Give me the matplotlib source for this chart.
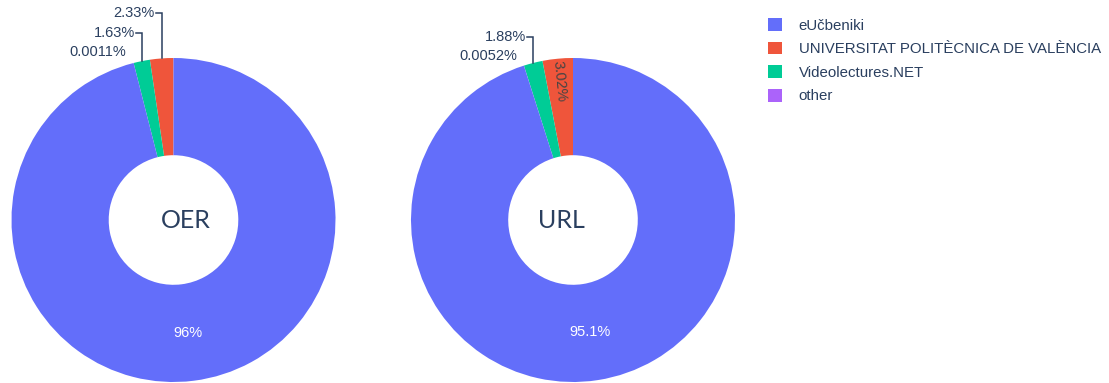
import matplotlib
matplotlib.use("Agg")
import numpy as np
import matplotlib.pyplot as plt
from matplotlib.patches import Patch

# Share of resources per source (percent)
sources = ["eUčbeniki", "UNIVERSITAT POLITÈCNICA DE VALÈNCIA", "Videolectures.NET", "other"]
colors = ["#636EFA", "#EF553B", "#00CC96", "#AB63FA"]
oer_share = [96.04, 2.33, 1.63, 0.0011]
url_share = [95.1, 3.02, 1.88, 0.0052]
titles = ["OER", "URL"]

TEXT = "#2a3f5f"
W, H = 1109, 383
fig = plt.figure(figsize=(W / 100, H / 100), dpi=100)
ax = fig.add_axes([0, 0, 1, 1])
plt.rcParams["font.family"] = ["Liberation Sans", "DejaVu Sans"]

# slices run counter-clockwise from 12 o'clock in this order
order = [1, 2, 3, 0]
R = 162
HOLE = 0.4
centers = [(173.5, H - 220), (573, H - 220)]
title_dx = [12.5, -11.5]
# per-source label placement: ("in", radius fraction, radial?) or ("out", lift in px)
placements = [
    {0: ("in", 0.70, False), 1: ("out", 45), 2: ("out", 28), 3: ("out", 11)},
    {0: ("in", 0.70, False), 1: ("in", 0.86, True), 2: ("out", 26), 3: ("out", 10)},
]
FS = 10.5
LEG_FS = 10.8


def fmt(v):
    return f"{v:.3g}%"


for k, shares in enumerate([oer_share, url_share]):
    cx, cy = centers[k]
    vals = [shares[i] for i in order]
    cols = [colors[i] for i in order]
    wedges, _ = ax.pie(vals, colors=cols, startangle=90, counterclock=True,
                       center=(cx, cy), radius=R, frame=True,
                       wedgeprops=dict(width=R * (1 - HOLE), linewidth=0))
    for w, idx in zip(wedges, order):
        mid = np.deg2rad((w.theta1 + w.theta2) / 2)
        pl = placements[k][idx]
        label = fmt(shares[idx])
        if pl[0] == "in":
            r = pl[1] * R
            x, y = cx + r * np.cos(mid), cy + r * np.sin(mid)
            rot = 0
            color = "white"
            if pl[2]:
                rot = np.rad2deg(mid)
                while rot > 90:
                    rot -= 180
                while rot <= -90:
                    rot += 180
                color = "#444444"
            ax.text(x, y, label, ha="center", va="center", rotation=rot,
                    rotation_mode="anchor", color=color, fontsize=FS)
        else:
            ex, ey = cx + R * np.cos(mid), cy + R * np.sin(mid)
            ty = ey + pl[1]
            ax.text(ex - 7, ty, label, ha="right", va="center", color=TEXT, fontsize=FS)
            if pl[1] > 15:
                ax.plot([ex - 6, ex, ex], [ty, ty, ey], color=TEXT, lw=1.1,
                        solid_joinstyle="miter")
    ax.text(cx + title_dx[k], cy, titles[k], ha="center", va="center",
            color=TEXT, fontsize=18, family=["Lato", "DejaVu Sans"])

ax.set_xlim(0, W)
ax.set_ylim(0, H)
ax.set_axis_off()

handles = [Patch(facecolor=c, edgecolor="none") for c in colors]
fig.legend(handles, sources, loc="upper left", bbox_to_anchor=(768 / W, 1 - 18 / H),
           frameon=False, fontsize=LEG_FS, borderpad=0, borderaxespad=0,
           handlelength=0.94, handleheight=0.94, handletextpad=1.1,
           labelspacing=0.6, labelcolor=TEXT)

fig.savefig("out.png", dpi=100)
